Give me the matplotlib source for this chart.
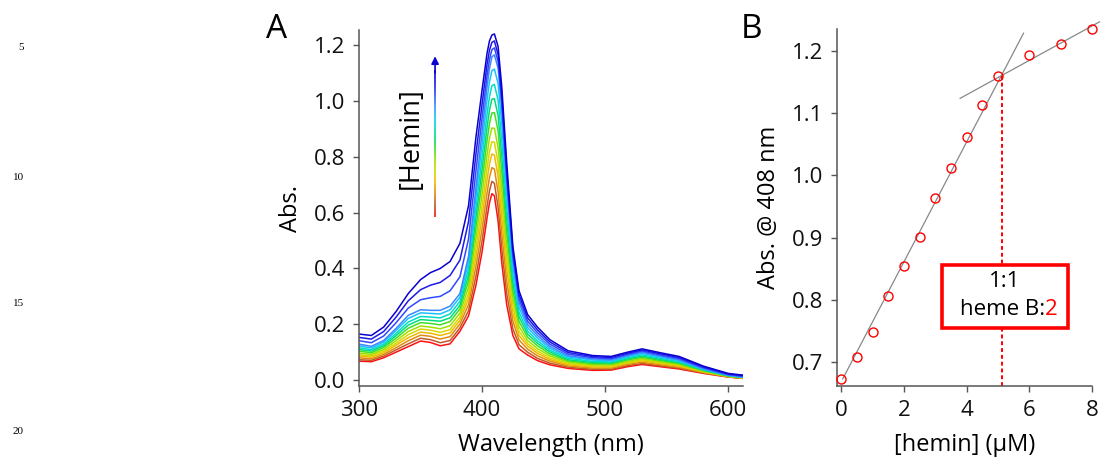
import numpy as np
import matplotlib
matplotlib.use("Agg")
import matplotlib.pyplot as plt
from matplotlib.collections import LineCollection
from matplotlib.colors import LinearSegmentedColormap
from matplotlib.patches import Rectangle
from matplotlib.ticker import FormatStrFormatter

plt.rcParams['font.family'] = ['Open Sans', 'DejaVu Sans']

# --- Panel A: absorption spectra during hemin titration ---
wavelength = [300, 310, 320, 330, 340, 350, 358, 366, 374, 382, 389, 395, 400, 404, 406, 408, 410,
              413, 416, 420, 425, 430, 437, 445, 455, 470, 490, 505, 518, 530, 545, 560, 580, 600, 612]

spec_00 = [0.068, 0.066, 0.080, 0.100, 0.120, 0.140, 0.135, 0.123, 0.130, 0.175, 0.230, 0.340, 0.460, 0.580, 0.635, 0.668, 0.660, 0.570, 0.420, 0.270, 0.160, 0.112, 0.090, 0.070, 0.055, 0.042, 0.035, 0.036, 0.048, 0.056, 0.048, 0.040, 0.024, 0.011, 0.006]
spec_01 = [0.073, 0.071, 0.086, 0.108, 0.130, 0.150, 0.145, 0.134, 0.142, 0.187, 0.249, 0.372, 0.499, 0.622, 0.678, 0.712, 0.705, 0.619, 0.470, 0.310, 0.184, 0.127, 0.100, 0.078, 0.061, 0.046, 0.039, 0.039, 0.052, 0.060, 0.051, 0.043, 0.026, 0.012, 0.007]
spec_02 = [0.080, 0.076, 0.092, 0.116, 0.141, 0.161, 0.157, 0.147, 0.156, 0.201, 0.271, 0.407, 0.542, 0.669, 0.726, 0.761, 0.756, 0.674, 0.525, 0.354, 0.212, 0.144, 0.111, 0.087, 0.068, 0.051, 0.043, 0.043, 0.056, 0.064, 0.055, 0.046, 0.027, 0.012, 0.007]
spec_03 = [0.086, 0.082, 0.098, 0.125, 0.152, 0.172, 0.168, 0.160, 0.169, 0.214, 0.292, 0.442, 0.585, 0.716, 0.775, 0.810, 0.806, 0.729, 0.581, 0.398, 0.239, 0.160, 0.122, 0.096, 0.074, 0.055, 0.047, 0.047, 0.060, 0.069, 0.059, 0.050, 0.029, 0.013, 0.008]
spec_04 = [0.091, 0.087, 0.104, 0.132, 0.163, 0.183, 0.179, 0.171, 0.181, 0.226, 0.311, 0.473, 0.623, 0.759, 0.818, 0.854, 0.852, 0.778, 0.631, 0.437, 0.263, 0.175, 0.131, 0.104, 0.080, 0.059, 0.051, 0.050, 0.063, 0.073, 0.062, 0.053, 0.031, 0.014, 0.008]
spec_05 = [0.097, 0.092, 0.110, 0.141, 0.174, 0.194, 0.190, 0.184, 0.195, 0.240, 0.333, 0.508, 0.666, 0.806, 0.866, 0.903, 0.902, 0.833, 0.686, 0.481, 0.291, 0.192, 0.142, 0.113, 0.087, 0.064, 0.055, 0.054, 0.067, 0.077, 0.066, 0.056, 0.032, 0.014, 0.009]
spec_06 = [0.104, 0.098, 0.117, 0.150, 0.186, 0.206, 0.203, 0.198, 0.210, 0.255, 0.356, 0.547, 0.714, 0.857, 0.919, 0.957, 0.958, 0.893, 0.747, 0.530, 0.320, 0.210, 0.154, 0.123, 0.094, 0.069, 0.059, 0.058, 0.072, 0.082, 0.070, 0.060, 0.034, 0.015, 0.010]
spec_07 = [0.110, 0.104, 0.123, 0.159, 0.197, 0.217, 0.214, 0.211, 0.223, 0.268, 0.378, 0.582, 0.757, 0.904, 0.967, 1.006, 1.008, 0.948, 0.802, 0.574, 0.348, 0.227, 0.165, 0.132, 0.101, 0.073, 0.063, 0.062, 0.076, 0.086, 0.074, 0.063, 0.036, 0.016, 0.010]
spec_08 = [0.116, 0.109, 0.129, 0.167, 0.208, 0.228, 0.226, 0.223, 0.237, 0.282, 0.399, 0.617, 0.800, 0.951, 1.015, 1.055, 1.059, 1.003, 0.858, 0.618, 0.375, 0.243, 0.176, 0.141, 0.107, 0.078, 0.067, 0.065, 0.080, 0.091, 0.078, 0.066, 0.037, 0.017, 0.011]
spec_09 = [0.123, 0.115, 0.136, 0.177, 0.221, 0.241, 0.239, 0.237, 0.252, 0.297, 0.423, 0.655, 0.847, 1.003, 1.068, 1.109, 1.114, 1.063, 0.919, 0.666, 0.405, 0.261, 0.188, 0.151, 0.114, 0.083, 0.072, 0.069, 0.084, 0.096, 0.082, 0.070, 0.039, 0.017, 0.011]
spec_10 = [0.129, 0.121, 0.142, 0.185, 0.232, 0.252, 0.250, 0.250, 0.265, 0.310, 0.444, 0.690, 0.890, 1.050, 1.116, 1.158, 1.165, 1.118, 0.974, 0.710, 0.432, 0.278, 0.199, 0.160, 0.121, 0.087, 0.076, 0.073, 0.088, 0.100, 0.086, 0.073, 0.041, 0.018, 0.012]
spec_11 = [0.141, 0.134, 0.158, 0.205, 0.258, 0.288, 0.295, 0.300, 0.320, 0.370, 0.506, 0.750, 0.940, 1.090, 1.149, 1.184, 1.190, 1.142, 0.996, 0.730, 0.448, 0.292, 0.211, 0.170, 0.129, 0.093, 0.080, 0.077, 0.092, 0.104, 0.090, 0.077, 0.044, 0.020, 0.014]
spec_12 = [0.153, 0.147, 0.174, 0.225, 0.284, 0.324, 0.340, 0.350, 0.375, 0.430, 0.568, 0.810, 0.990, 1.130, 1.182, 1.210, 1.215, 1.166, 1.018, 0.750, 0.464, 0.306, 0.223, 0.180, 0.137, 0.099, 0.084, 0.081, 0.096, 0.108, 0.094, 0.081, 0.047, 0.022, 0.016]
spec_13 = [0.165, 0.160, 0.190, 0.245, 0.310, 0.360, 0.385, 0.400, 0.425, 0.490, 0.625, 0.870, 1.040, 1.170, 1.215, 1.236, 1.240, 1.195, 1.050, 0.780, 0.480, 0.320, 0.235, 0.190, 0.145, 0.105, 0.088, 0.085, 0.100, 0.112, 0.098, 0.085, 0.050, 0.024, 0.018]

spectra = [spec_00, spec_01, spec_02, spec_03, spec_04, spec_05, spec_06,
           spec_07, spec_08, spec_09, spec_10, spec_11, spec_12, spec_13]

# Farben rot -> blau (steigende Hemin-Konzentration)
curve_colors = ['#ff1010', '#c0582a', '#e08a10', '#f0b800', '#d8d800', '#a0e000', '#44dd22',
                '#00dd77', '#00dcc8', '#18c0ff', '#3a88ff', '#3048ff', '#1c18e8', '#0a00d0']

# --- Panel B: titration at 408 nm ---
hemin_uM = [0, 0.5, 1, 1.5, 2, 2.5, 3, 3.5, 4, 4.5, 5, 6, 7, 8]
abs_408 = [0.672, 0.708, 0.749, 0.806, 0.854, 0.901, 0.963, 1.012, 1.062, 1.113, 1.160, 1.194, 1.212, 1.235]

# linear fits (slope, intercept, x-range)
fit_rise = (0.0965, 0.668, 0.05, 5.81)
fit_plateau = (0.0277, 1.019, 3.79, 8.23)
break_x = 5.12

fig = plt.figure(figsize=(11.05, 4.62), dpi=100)
axA = fig.add_axes([0.3249, 0.1645, 0.3475, 0.7705])
axB = fig.add_axes([0.7575, 0.1652, 0.2310, 0.7714])

spine_col = '#555555'
for ax in (axA, axB):
    for s in ('top', 'right'):
        ax.spines[s].set_visible(False)
    for s in ('left', 'bottom'):
        ax.spines[s].set_color(spine_col)
        ax.spines[s].set_linewidth(1.1)
    ax.tick_params(direction='out', length=4, width=1.0, color=spine_col,
                   labelsize=16, pad=6, labelcolor='#111111')

# Panel A
for spec, col in zip(spectra, curve_colors):
    axA.plot(wavelength, spec, color=col, lw=1.1)
axA.set_xlim(300, 612)
axA.set_ylim(-0.021, 1.254)
axA.set_xticks([300, 400, 500, 600])
axA.set_yticks([0.0, 0.2, 0.4, 0.6, 0.8, 1.0, 1.2])
axA.yaxis.set_major_formatter(FormatStrFormatter('%.1f'))
axA.set_xlabel('Wavelength (nm)', fontsize=17, labelpad=9)
axA.set_ylabel('Abs.', fontsize=17, labelpad=8)

# Gradient arrow
cmap = LinearSegmentedColormap.from_list('hemin', curve_colors)
ay = np.linspace(0.584, 1.11, 80)
pts = np.column_stack([np.full_like(ay, 361.8), ay]).reshape(-1, 1, 2)
segs = np.concatenate([pts[:-1], pts[1:]], axis=1)
lc = LineCollection(segs, colors=cmap(np.linspace(0, 1, len(segs))), linewidths=1.2)
axA.add_collection(lc)
axA.annotate('', xy=(361.8, 1.16), xytext=(361.8, 1.10),
             arrowprops=dict(arrowstyle='-|>', color=curve_colors[-1], lw=1.2,
                             mutation_scale=11, shrinkA=0, shrinkB=0))
axA.text(342.0, 0.867, '[Hemin]', rotation=90, fontsize=19.5, ha='center', va='center')

# Panel B
xr = np.array(fit_rise[2:])
axB.plot(xr, fit_rise[0] * xr + fit_rise[1], color='#888888', lw=0.9, clip_on=False)
xp = np.array(fit_plateau[2:])
axB.plot(xp, fit_plateau[0] * xp + fit_plateau[1], color='#888888', lw=0.9, clip_on=False)
break_y = fit_rise[0] * break_x + fit_rise[1]
axB.plot([break_x, break_x], [0.662, break_y], color='red', lw=1.4, ls=(0, (2, 1.5)), zorder=2)
axB.plot(hemin_uM, abs_408, 'o', mfc='none', mec='red', mew=1.0, ms=6.5, clip_on=False, zorder=4)
axB.set_xlim(-0.13, 8.0)
axB.set_ylim(0.662, 1.235)
axB.set_xticks([0, 2, 4, 6, 8])
axB.set_yticks([0.7, 0.8, 0.9, 1.0, 1.1, 1.2])
axB.yaxis.set_major_formatter(FormatStrFormatter('%.1f'))
axB.set_xlabel('[hemin] (µM)', fontsize=17, labelpad=9)
axB.set_ylabel('Abs. @ 408 nm', fontsize=17, labelpad=8)

box = Rectangle((3.22, 0.755), 4.01, 0.101, facecolor='white', edgecolor='red', lw=2.6, zorder=5)
axB.add_patch(box)
axB.text(5.22, 0.829, '1:1', fontsize=16, ha='center', va='center', zorder=6)
axB.text(6.50, 0.784, 'heme B:', fontsize=16, ha='right', va='center', zorder=6)
axB.text(6.50, 0.784, '2', fontsize=16, color='red', ha='left', va='center', zorder=6)

# panel letters
fig.text(0.250, 0.937, 'A', fontsize=24, ha='center', va='center')
fig.text(0.680, 0.937, 'B', fontsize=24, ha='center', va='center')

# line numbers of the source document
for num, ypix in [('5', 48), ('10', 178), ('15', 303), ('20', 432)]:
    fig.text(24 / 1105, 1 - ypix / 462, num, fontsize=8, ha='right', va='center',
             family=['Liberation Serif', 'DejaVu Serif'])

fig.savefig('out.png', dpi=100)
